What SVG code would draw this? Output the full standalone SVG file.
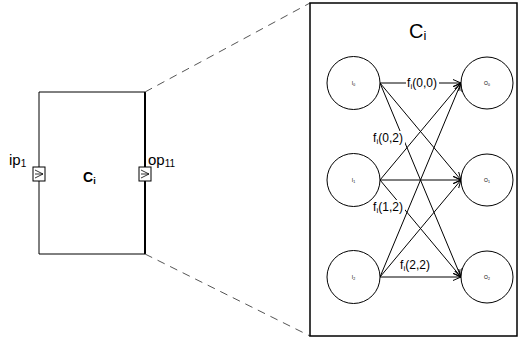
<svg xmlns="http://www.w3.org/2000/svg" width="519" height="341" viewBox="0 0 519 341">
<defs>
<marker id="arr" markerWidth="10" markerHeight="10" refX="8" refY="4" orient="auto" markerUnits="userSpaceOnUse">
<path d="M0,0.5 L8,4 L0,7.5" fill="none" stroke="#000" stroke-width="1"/>
</marker>
</defs>
<style>
text{font-family:"Liberation Sans",Arial,sans-serif;fill:#000}
.node{fill:#fff;stroke:#000;stroke-width:1}
.edge{fill:none;stroke:#000;stroke-width:1;marker-end:url(#arr)}
.dash{fill:none;stroke:#555;stroke-width:1;stroke-dasharray:8 6}
.lbl{font-size:12px;text-anchor:middle}
.sub{font-size:8px}
.tiny{font-size:5px;text-anchor:middle}
.bg{fill:#fff}
.port{fill:#fff;stroke:#000;stroke-width:1}
</style>
<rect width="519" height="341" fill="#fff"/>

<g id="component">
<path d="M145,92 L39,92 L39,254 L145,254" fill="none" stroke="#000" stroke-width="1"/>
<line x1="145" y1="92" x2="145" y2="254" stroke="#000" stroke-width="2"/>
<text x="83" y="182" font-size="14" font-weight="bold">C<tspan font-size="9" dy="2">i</tspan></text>
</g>

<g id="port-ip1">
<rect class="port" x="33" y="167" width="12" height="14"/>
<path d="M35,170 L43,174 L35,178 M35,174 L43,174" fill="none" stroke="#000" stroke-width="0.8"/>
<text x="9" y="165" font-size="15">ip<tspan font-size="10" dy="2">1</tspan></text>
</g>

<g id="port-op11">
<rect class="port" x="139" y="167" width="12" height="14"/>
<path d="M141,170 L149,174 L141,178 M141,174 L149,174" fill="none" stroke="#000" stroke-width="0.8"/>
<text x="148" y="165" font-size="15">op<tspan font-size="10" dy="2">11</tspan></text>
</g>

<g id="zoom-lines">
<line class="dash" x1="145" y1="92" x2="310" y2="3"/>
<line class="dash" x1="145" y1="254" x2="310" y2="336"/>
</g>

<g id="detail">
<rect x="310" y="3" width="207" height="333" fill="#fff" stroke="#000" stroke-width="1.5"/>
<text x="409" y="38" font-size="20">C<tspan font-size="13" dy="2">i</tspan></text>
</g>

<g id="connectors">
<line class="edge" x1="380" y1="83" x2="461" y2="83"/>
<line class="edge" x1="380" y1="83" x2="461" y2="180"/>
<line class="edge" x1="380" y1="83" x2="461" y2="277"/>
<line class="edge" x1="380" y1="180" x2="461" y2="83"/>
<line class="edge" x1="380" y1="180" x2="461" y2="180"/>
<line class="edge" x1="380" y1="180" x2="461" y2="277"/>
<line class="edge" x1="380" y1="277" x2="461" y2="83"/>
<line class="edge" x1="380" y1="277" x2="461" y2="180"/>
<line class="edge" x1="380" y1="277" x2="461" y2="277"/>
<rect class="bg" x="406" y="77" width="33" height="13"/>
<text class="lbl" x="422" y="87">f<tspan class="sub" dy="2">i</tspan><tspan dy="-2">(0,0)</tspan></text>
<rect class="bg" x="371" y="131" width="34" height="14"/>
<text class="lbl" x="388" y="142">f<tspan class="sub" dy="2">i</tspan><tspan dy="-2">(0,2)</tspan></text>
<rect class="bg" x="371" y="200" width="34" height="14"/>
<text class="lbl" x="388" y="211">f<tspan class="sub" dy="2">i</tspan><tspan dy="-2">(1,2)</tspan></text>
<text class="lbl" x="415" y="269">f<tspan class="sub" dy="2">i</tspan><tspan dy="-2">(2,2)</tspan></text>
</g>

<g id="I0"><circle class="node" cx="353.5" cy="83" r="26.5"/><text class="tiny" x="353.5" y="85">I<tspan font-size="3.5" dy="1">0</tspan></text></g>
<g id="I1"><circle class="node" cx="353.5" cy="180" r="26.5"/><text class="tiny" x="353.5" y="182">I<tspan font-size="3.5" dy="1">1</tspan></text></g>
<g id="I2"><circle class="node" cx="353.5" cy="277" r="26.5"/><text class="tiny" x="353.5" y="279">I<tspan font-size="3.5" dy="1">2</tspan></text></g>
<g id="O0"><circle class="node" cx="487" cy="83" r="26"/><text class="tiny" x="487" y="85">O<tspan font-size="3.5" dy="1">0</tspan></text></g>
<g id="O1"><circle class="node" cx="487" cy="180" r="26"/><text class="tiny" x="487" y="182">O<tspan font-size="3.5" dy="1">1</tspan></text></g>
<g id="O2"><circle class="node" cx="487" cy="277" r="26"/><text class="tiny" x="487" y="279">O<tspan font-size="3.5" dy="1">2</tspan></text></g>
</svg>
